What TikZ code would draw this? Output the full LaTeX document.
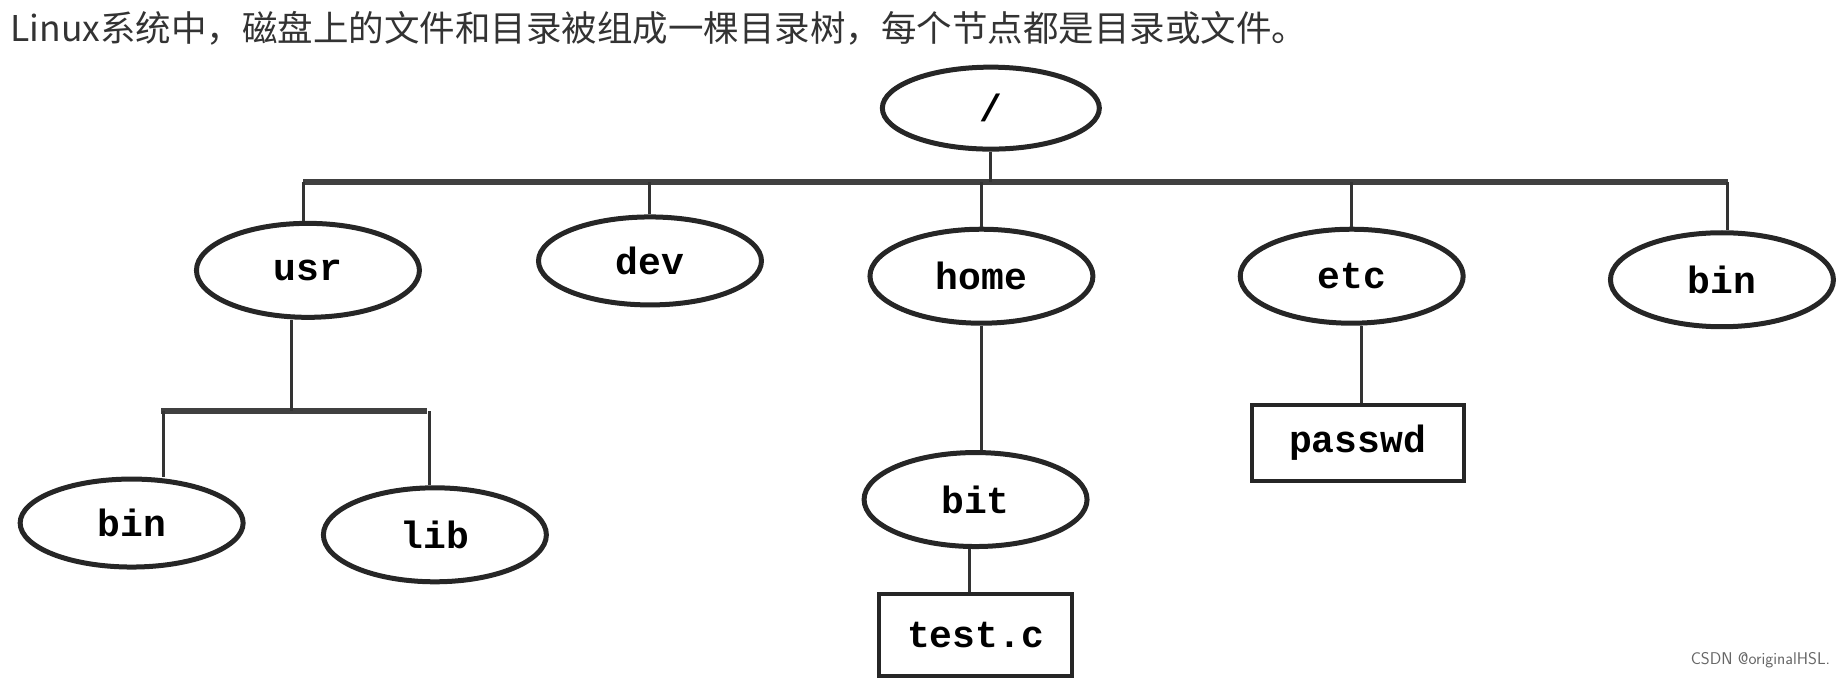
\documentclass[tikz,border=0pt]{standalone}
\usepackage{fontspec}
\usetikzlibrary{shapes.geometric}
\setmainfont{Liberation Serif}
\setmonofont{Liberation Mono}
\newfontfamily\cjk{Noto Sans CJK SC}
\begin{document}
\begin{tikzpicture}[x=1.1755pt,y=-1.1755pt,
  el/.style={draw=black!85,line width=5pt,ellipse,minimum width=223pt,minimum height=94pt,inner sep=0pt,font=\fontsize{38}{40}\selectfont\ttfamily\bfseries},
  fbox/.style={draw=black!85,line width=4pt,rectangle,inner sep=0pt,font=\fontsize{38}{40}\selectfont\ttfamily\bfseries},
  ln/.style={line width=3pt,black!80},
  bar/.style={line width=6pt,black!75}]
\useasboundingbox (0,0) rectangle (1568,578.5);
\node[anchor=west,font=\cjk\fontsize{35.5}{38}\selectfont,text=black!80] (title) at (6,24) {Linux系统中，磁盘上的文件和目录被组成一棵目录树，每个节点都是目录或文件。};
\node[el,minimum width=217pt,minimum height=82pt] (root) at (843,92) {/};
\node[el] (usr) at (262,230) {usr};
\node[el,minimum height=88pt] (dev) at (553,222) {dev};
\node[el] (home) at (835,235) {home};
\node[el] (etc) at (1150,235) {etc};
\node[el] (bin) at (1465,238) {bin};
\node[el,minimum height=88pt] (bin2) at (112,445) {bin};
\node[el] (lib) at (370,455) {lib};
\node[el] (bit) at (830,425) {bit};
\node[fbox,minimum width=193pt,minimum height=82pt] (test) at (830,540) {test.c};
\node[fbox,minimum width=212pt,minimum height=76pt] (passwd) at (1155,377) {passwd};
\node[font=\fontsize{17}{19}\selectfont\sffamily,text=black!60,anchor=east] (wm) at (1560,562) {CSDN @originalHSL.};
\coordinate (b1) at (258,155); \coordinate (b2) at (1470,155);
\draw[bar] (b1) -- (b2);
\draw[ln] (root.south) -- (root.south |- b1);
\draw[ln] (b1) -- (usr.north -| b1);
\draw[ln] (dev.north) -- (dev.north |- b1);
\draw[ln] (home.north) -- (home.north |- b1);
\draw[ln] (etc.north) -- (etc.north |- b1);
\draw[ln] (b2) -- (bin.north -| b2);
\coordinate (c1) at (137,350); \coordinate (c2) at (363,350);
\coordinate (u) at (248,350); \coordinate (cb) at (139,350); \coordinate (cl) at (365,350);
\coordinate (t) at (825,0); \coordinate (p) at (1158,0);
\draw[bar] (c1) -- (c2);
\draw[ln] (usr.south -| u) -- (u);
\draw[ln] (cb) -- (bin2.north -| cb);
\draw[ln] (cl) -- (lib.north -| cl);
\draw[ln] (home.south) -- (bit.north -| home.south);
\draw[ln] (bit.south -| t) -- (test.north -| t);
\draw[ln] (etc.south -| p) -- (passwd.north -| p);
\end{tikzpicture}
\end{document}
